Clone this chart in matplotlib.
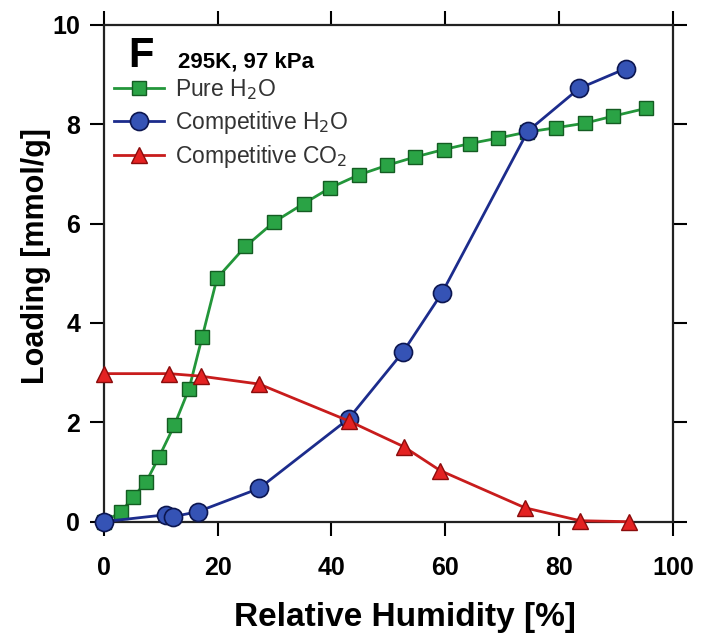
import numpy as np
import matplotlib.pyplot as plt

# Pure H2O isotherm
rh_pure = [0, 3.0, 5.1, 7.4, 9.7, 12.4, 15.0, 17.3, 19.9, 24.9, 29.9, 35.1, 39.8,
           44.8, 49.7, 54.7, 59.7, 64.3, 69.3, 74.3, 79.5, 84.5, 89.4, 95.3]
load_pure = [0, 0.19, 0.49, 0.79, 1.30, 1.94, 2.68, 3.72, 4.90, 5.54, 6.03, 6.40, 6.72,
             6.98, 7.17, 7.34, 7.49, 7.61, 7.72, 7.84, 7.93, 8.02, 8.16, 8.32]

# competitive H2O
rh_comp_h2o = [0, 10.9, 12.1, 16.5, 27.3, 43.0, 52.6, 59.4, 74.5, 83.5, 91.7]
load_comp_h2o = [0, 0.14, 0.10, 0.20, 0.67, 2.07, 3.42, 4.60, 7.86, 8.72, 9.12]

# competitive CO2
rh_comp_co2 = [0, 11.5, 17.0, 27.3, 43.0, 52.7, 59.1, 74.0, 83.7, 92.3]
load_comp_co2 = [2.98, 2.98, 2.93, 2.77, 2.03, 1.51, 1.03, 0.28, 0.02, 0.0]

plt.rcParams['font.family'] = ['Liberation Sans', 'DejaVu Sans']

fig = plt.figure(figsize=(7.01, 6.37), dpi=100)
ax = fig.add_axes([0.148, 0.181, 0.812, 0.780])

ax.plot(rh_pure, load_pure, '-s', color='#23963a', lw=2.0, ms=10,
        mfc='#2aa345', mec='#145c22', mew=1.0, clip_on=False, zorder=3,
        label='Pure H$_2$O')
ax.plot(rh_comp_h2o, load_comp_h2o, '-o', color='#1c2c8c', lw=2.0, ms=13,
        mfc='#3553b5', mec='#0c1650', mew=1.2, clip_on=False, zorder=4,
        label='Competitive H$_2$O')
ax.plot(rh_comp_co2, load_comp_co2, '-^', color='#c81c1c', lw=2.0, ms=12,
        mfc='#e42222', mec='#8a0c0c', mew=1.0, clip_on=False, zorder=5,
        label='Competitive CO$_2$')

ax.set_xlim(0, 100)
ax.set_ylim(0, 10)
ax.set_xticks(np.arange(0, 101, 20))
ax.set_yticks(np.arange(0, 11, 2))

ax.tick_params(direction='out', length=10, width=1.5, labelsize=18,
               top=True, right=True)
ax.tick_params(axis='x', pad=15)
ax.tick_params(axis='y', pad=7)
for lab in ax.get_xticklabels() + ax.get_yticklabels():
    lab.set_fontweight('bold')
for sp in ax.spines.values():
    sp.set_linewidth(1.6)
    sp.set_color('#222222')

ax.set_xlabel('Relative Humidity [%]', fontsize=24, fontweight='bold')
ax.xaxis.set_label_coords(0.529, -0.162)
ax.set_ylabel('Loading [mmol/g]', fontsize=22, fontweight='bold')
ax.yaxis.set_label_coords(-0.092, 0.535)

ax.text(0.065, 0.978, 'F', transform=ax.transAxes, fontsize=30,
        fontweight='bold', va='top', ha='center')
ax.text(0.13, 0.925, '295K, 97 kPa', transform=ax.transAxes, fontsize=16,
        fontweight='bold', va='center', ha='left')

leg = ax.legend(loc='upper left', bbox_to_anchor=(0.018, 0.895), frameon=False,
                fontsize=16.5, handlelength=2.2, handletextpad=0.45,
                labelspacing=0.3, borderpad=0, borderaxespad=0)
for t in leg.get_texts():
    t.set_color('#333333')

plt.savefig('out.png', dpi=100)
